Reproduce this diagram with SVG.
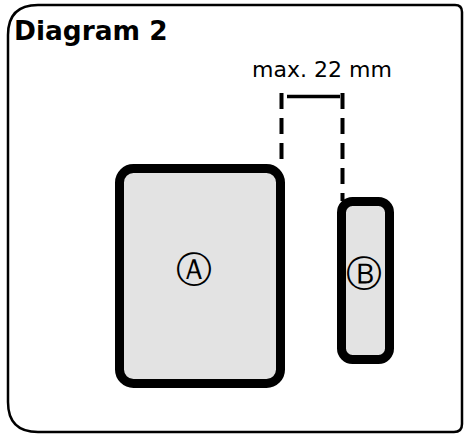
<svg xmlns="http://www.w3.org/2000/svg" width="469" height="436" viewBox="0 0 469 436">
<style>
.frame{fill:#fff;stroke:#000;stroke-width:2.5}
.box{fill:#e3e3e3;stroke:#000;stroke-width:9}
.dash{fill:none;stroke:#000;stroke-width:4;stroke-dasharray:16,9}
.dim{fill:none;stroke:#000;stroke-width:3.5}
.t{font-family:"DejaVu Sans",Verdana,sans-serif;fill:#000}
</style>
<rect width="469" height="436" fill="#fff"/>
<g id="frame">
<path class="frame" d="M38,5 H455 Q462,5 462,12 V424 Q462,432 454,432 H38 Q8,432 8,402 V35 Q8,5 38,5 Z"/>
<text class="t" x="14" y="40" font-size="26.4" font-weight="bold">Diagram 2</text>
</g>
<g id="connectors">
<line class="dash" x1="281.5" y1="93" x2="281.5" y2="168"/>
<line class="dash" x1="342.5" y1="93" x2="342.5" y2="201"/>
<line class="dim" x1="287" y1="96.5" x2="340" y2="96.5"/>
<text class="t" x="322" y="77" font-size="22" text-anchor="middle">max. 22 mm</text>
</g>
<g id="nodeA">
<rect class="box" x="119.5" y="168.5" width="161" height="215" rx="14"/>
<text class="t" x="194" y="281.5" font-size="36" text-anchor="middle">Ⓐ</text>
</g>
<g id="nodeB">
<rect class="box" x="341.5" y="201.5" width="48" height="158" rx="11"/>
<text class="t" x="363.5" y="285.5" font-size="36" text-anchor="middle">Ⓑ</text>
</g>
</svg>
